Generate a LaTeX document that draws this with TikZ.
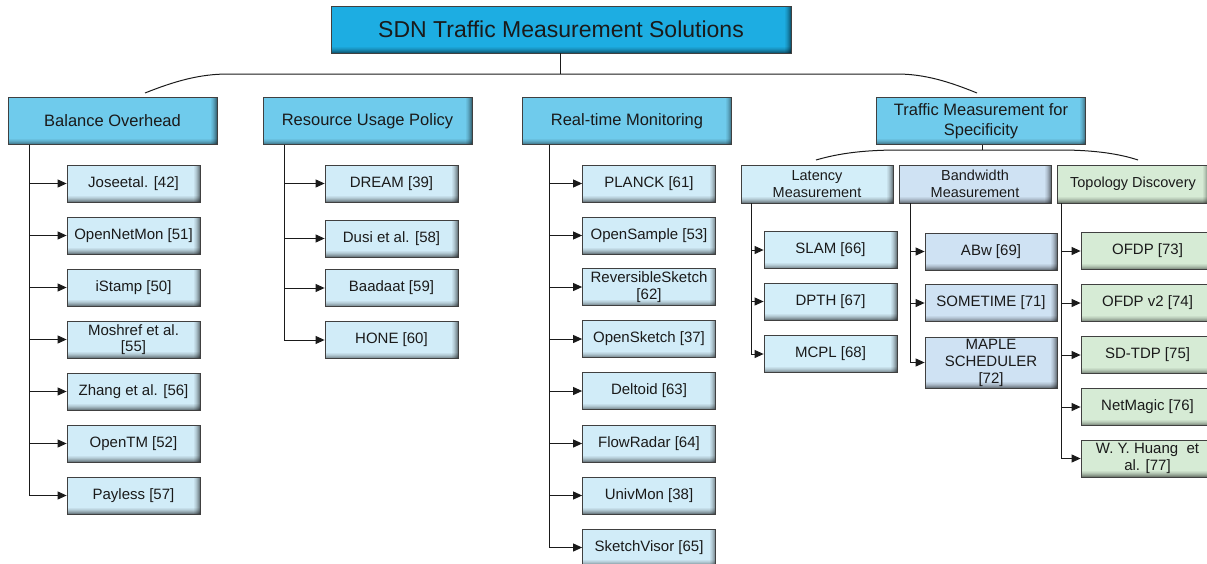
\documentclass[tikz,border=0pt]{standalone}
\usepackage{fontspec}
\setmainfont{Liberation Sans}
\usetikzlibrary{arrows.meta}
\definecolor{titlec}{HTML}{1DADE2}
\definecolor{lvlc}{HTML}{6FCBEC}
\definecolor{leafc}{HTML}{D1ECF8}
\definecolor{latc}{HTML}{D3EEF9}
\definecolor{bwc}{HTML}{CFE2F3}
\definecolor{topoc}{HTML}{D6EBD5}
\definecolor{inkc}{HTML}{1A1A1A}
\tikzset{
  bevel/.style={path picture={
    \foreach \o [count=\i from 0] in {0.45,0.34,0.25,0.17,0.10,0.05}{
      \fill[black,opacity=\o] ([yshift=\i pt]path picture bounding box.south west) rectangle ([yshift={\i pt+1pt}]path picture bounding box.south east);
      \fill[black,opacity=\o] ([xshift=-\i pt]path picture bounding box.south east) rectangle ([xshift={-\i pt-1pt}]path picture bounding box.north east);
    }}},
  box/.style={draw=black!75, line width=0.8pt, inner sep=1pt, align=center, text=inkc, bevel},
  topbox/.style={box, fill=titlec, minimum width=460pt, minimum height=47pt, font=\fontsize{23}{27}\selectfont},
  lvl/.style={box, fill=lvlc, minimum width=209pt, minimum height=47pt, font=\fontsize{16.5}{19.5}\selectfont},
  sub/.style={box, minimum width=152pt, minimum height=38pt, font=\fontsize{14.5}{16.5}\selectfont},
  leaf/.style={box, fill=leafc, minimum width=133pt, minimum height=37pt, font=\fontsize{15}{16.5}\selectfont},
  conn/.style={draw=inkc, line width=1pt},
  arr/.style={conn, -{Triangle[length=9pt,width=8pt]}},
}
\begin{document}
\begin{tikzpicture}[x=1pt,y=-1pt]
\useasboundingbox (0,0) rectangle (1207,563);
\clip (0,0) rectangle (1207,563);
% top
\node[topbox] (title) at (561,29.5) {SDN Traffic Measurement Solutions};
\node[lvl] (bo) at (112.5,121) {Balance Overhead};
\node[lvl] (rup) at (367.5,121) {Resource Usage Policy};
\node[lvl] (rtm) at (627,121) {Real-time Monitoring};
\node[lvl] (tms) at (981,121) {Traffic Measurement for\\Specificity};
\coordinate (hub) at (560,74);
\coordinate (a1) at (145,93);
\coordinate (a2) at (977,93);
\draw[conn] (title.south -| hub) -- (hub);
\draw[conn] (a1) .. controls (175,81) and (200,74) .. (228,74) -- (897,74) .. controls (925,74) and (950,82) .. (a2);
% balance overhead
\foreach \n/\y/\t in {1/183.5/{Joseetal. [42]},2/235.5/{OpenNetMon [51]},3/287.5/{iStamp [50]},4/339.5/{Moshref et al.\\{}[55]},5/391.5/{Zhang et al. [56]},6/443.5/{OpenTM [52]},7/495.5/{Payless [57]}}{
  \node[leaf] (bo\n) at (133.5,\y) {\t};
  \draw[arr] ([xshift=22pt]bo.south west) |- (bo\n.west);
}
% resource usage
\foreach \n/\y/\t in {1/183.5/{DREAM [39]},2/238.5/{Dusi et al. [58]},3/288/{Baadaat [59]},4/340/{HONE [60]}}{
  \node[leaf] (rup\n) at (391.5,\y) {\t};
  \draw[arr] ([xshift=22pt]rup.south west) |- (rup\n.west);
}
% real-time
\foreach \n/\y/\t in {1/183.5/{PLANCK [61]},2/235.5/{OpenSample [53]},3/287/{ReversibleSketch\\{}[62]},4/339/{OpenSketch [37]},5/391/{Deltoid [63]},6/443.5/{FlowRadar [64]},7/495.5/{UnivMon [38]},8/547.5/{SketchVisor [65]}}{
  \node[leaf] (rtm\n) at (649,\y) {\t};
  \draw[arr] ([xshift=27pt]rtm.south west) |- (rtm\n.west);
}
% specificity
\node[sub, fill=latc] (lat) at (817,184) {Latency\\Measurement};
\node[sub, fill=bwc] (bw) at (975,184) {Bandwidth\\Measurement};
\node[sub, fill=topoc] (topo) at (1133,184) {Topology Discovery};
\coordinate (shub) at (982,150);
\coordinate (b1) at (816,160);
\coordinate (b2) at (1138,160);
\draw[conn] (tms.south -| shub) -- (shub);
\draw[conn] (b1) .. controls (840,153) and (865,150) .. (900,150) -- (1060,150) .. controls (1095,150) and (1120,154) .. (b2);
\foreach \n/\y/\t in {1/250/{SLAM [66]},2/301.5/{DPTH [67]},3/354/{MCPL [68]}}{
  \node[leaf, fill=latc] (lat\n) at (830.5,\y) {\t};
  \draw[arr] ([xshift=11pt]lat.south west) |- (lat\n.west);
}
\foreach \n/\y/\t/\h in {1/251.5/{ABw [69]}/37,2/303/{SOMETIME [71]}/37,3/362.5/{MAPLE\\SCHEDULER\\{}[72]}/51}{
  \node[leaf, fill=bwc, minimum width=132pt, minimum height=\h pt, font=\fontsize{15}{17}\selectfont] (bw\n) at (991,\y) {\t};
  \draw[arr] ([xshift=12pt]bw.south west) |- (bw\n.west);
}
\foreach \n/\y/\t in {1/251/{OFDP [73]},2/303/{OFDP v2 [74]},3/355/{SD-TDP [75]},4/407/{NetMagic [76]},5/458.5/{W. Y. Huang\ \ et\\al. [77]}}{
  \node[leaf, fill=topoc] (topo\n) at (1147.5,\y) {\t};
  \draw[arr] ([xshift=5pt]topo.south west) |- (topo\n.west);
}
\end{tikzpicture}
\end{document}
